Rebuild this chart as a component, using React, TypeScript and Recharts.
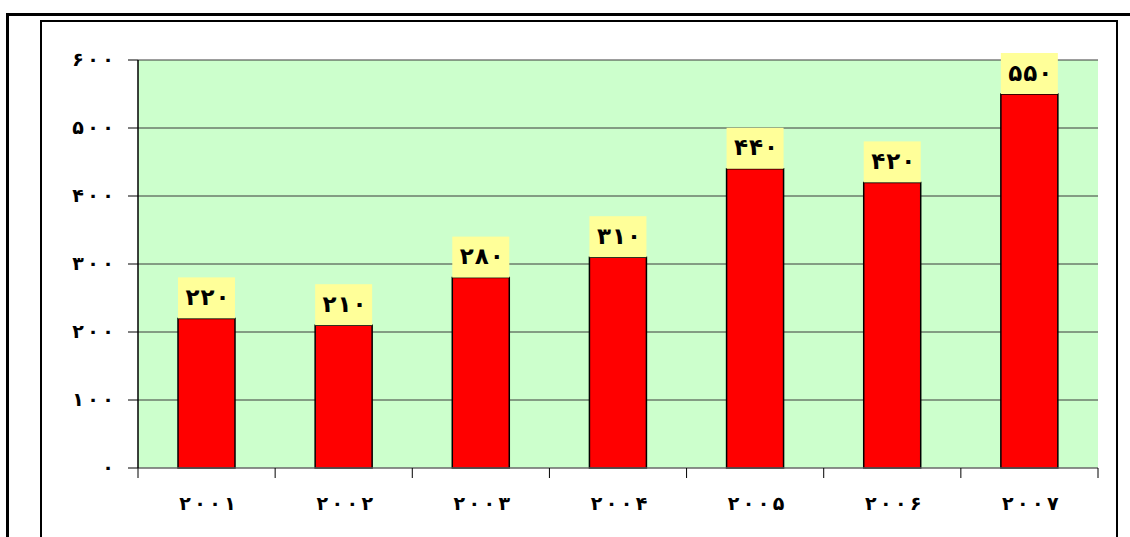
import React from "react"
import { Bar, BarChart, CartesianGrid, XAxis, YAxis, LabelList } from "recharts"

const years = ["2001", "2002", "2003", "2004", "2005", "2006", "2007"]
const values = [220, 210, 280, 310, 440, 420, 550]
const yTicks = [0, 100, 200, 300, 400, 500, 600]
const edgeTicks = [0, 1, 2, 3, 4, 5, 6, 7]

const data = years.map((y, i) => ({ year: y, value: values[i], pos: i + 0.5 }))

const FA = "۰۱۲۳۴۵۶۷۸۹"
const fa = (v: string | number) => String(v).replace(/\d/g, (d) => FA[+d])

const font = "'DejaVu Sans', sans-serif"

// digits are spread apart like the original, one tspan per glyph
function Spaced({ x, y, text, size, gap, anchor }: { x: number; y: number; text: string; size: number; gap: number; anchor: "start" | "middle" | "end" }) {
  const chars = text.split("")
  const total = (chars.length - 1) * gap
  const x0 = anchor === "middle" ? x - total / 2 : anchor === "end" ? x - total : x
  return (
    <text y={y} fontFamily={font} fontWeight="bold" fontSize={size} fill="#000" textAnchor="middle">
      {chars.map((c, i) => (
        <tspan key={i} x={x0 + i * gap}>
          {c}
        </tspan>
      ))}
    </text>
  )
}

function ValueBox(props: any) {
  const { x, y, width, value } = props
  const h = 41
  return (
    <g>
      <rect x={x} y={y - h} width={width} height={h} fill="#FFFF99" />
      <Spaced x={x + width / 2 + 1} y={y - h / 2 + 7} text={fa(value)} size={23} gap={15} anchor="middle" />
    </g>
  )
}

function YTick(props: any) {
  const { x, y, payload } = props
  return <Spaced x={x - 4} y={y + 6} text={fa(payload.value)} size={19} gap={15} anchor="end" />
}

function XTick(props: any) {
  const { x, payload } = props
  return <Spaced x={x + 1} y={510} text={fa(payload.value)} size={19} gap={15} anchor="middle" />
}

export default function App() {
  return (
    <div style={{ position: "absolute", left: 0, top: 0, width: 1130, height: 537, overflow: "hidden", background: "#fff" }}>
      <div style={{ position: "absolute", left: 6, top: 13, width: 1200, height: 600, border: "3px solid #000" }} />
      <div style={{ position: "absolute", left: 40, top: 20, width: 1074, height: 600, border: "2px solid #000" }} />
      <div style={{ position: "absolute", left: 0, top: 0 }}>
        <BarChart width={1130} height={537} data={data} margin={{ top: 60, right: 32, bottom: 0, left: 0 }} barSize={57}>
          <CartesianGrid vertical={false} fill="#CCFFCC" stroke="#3a3a3a" />
          <XAxis
            xAxisId="a0"
            type="number"
            dataKey="pos"
            domain={[0, 7]}
            ticks={edgeTicks}
            stroke="#808080"
            tickLine={{ stroke: "#000" }}
            tickSize={10}
            tickFormatter={() => ""}
            height={10}
          />
          <XAxis
            dataKey="year"
            xAxisId="b1"
            axisLine={false}
            tickLine={false}
            height={59}
            tick={<XTick />}
            interval={0}
          />
          <YAxis
            width={138}
            domain={[0, 600]}
            ticks={yTicks}
            axisLine={{ stroke: "#000", strokeWidth: 1.5 }}
            tickLine={{ stroke: "#000" }}
            tickSize={10}
            tickMargin={16}
            tick={<YTick />}
          />
          <YAxis yAxisId="r" orientation="right" width={0} axisLine={{ stroke: "#999" }} tick={false} tickLine={false} />
          <Bar dataKey="value" xAxisId="b1" fill="#FF0000" stroke="#000" strokeWidth={1.5} isAnimationActive={false}>
            <LabelList dataKey="value" content={<ValueBox />} />
          </Bar>
        </BarChart>
      </div>
    </div>
  )
}
